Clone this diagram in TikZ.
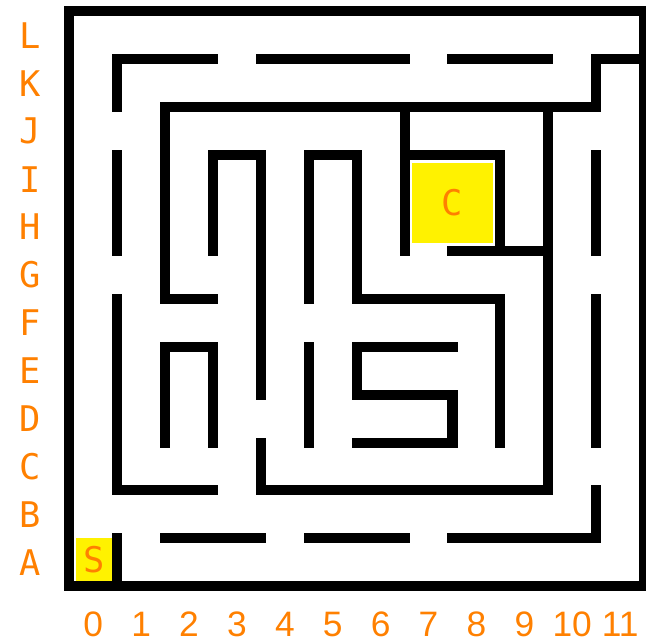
\documentclass[tikz,border=0pt]{standalone}
\usepackage{fontspec}
\usepackage{tikz}
\newfontfamily\mazefont{DejaVu Sans Mono}
\newfontfamily\numfont{Liberation Sans}
\definecolor{mazeorange}{HTML}{FF8000}
\tikzset{
  wall/.style={line width=0.209cm, line cap=rect, line join=miter, black},
  tag/.style={text=mazeorange, font=\mazefont\fontsize{21}{21}\selectfont, inner sep=0pt},
  numtag/.style={tag, font=\numfont\fontsize{21}{21}\selectfont},
  goal/.style={fill=yellow, draw=none}
}

\begin{document}
\begin{tikzpicture}[scale=1]
        \useasboundingbox (-1.447,-1.184) rectangle (12.04,12.24);
        \fill[goal] (7.16,7.16) rectangle (8.84,8.84);
        \fill[goal] (0.14,0.11) rectangle (0.92,1.0);
        \node[tag] (cheese) at (8,8) {C};
        \node[tag] (start) at (0.51,0.55) {S};
        \draw[wall] (0,0) -- (12,0) -- (12,12) -- (0,12) -- cycle;
        \draw[wall] (1,10) -- (1,11) -- (3,11);
        \draw[wall] (4,11) -- (7,11);
        \draw[wall] (8,11) -- (10,11);
        \draw[wall] (3,6) -- (2,6) -- (2,10) -- (11,10) -- (11,11) -- (12,11);
        \draw[wall] (1,9) -- (1,7);
        \draw[wall] (1,6) -- (1,2) -- (3,2);
        \draw[wall] (3,7) -- (3,9) -- (4,9) -- (4,4);
        \draw[wall] (4,3) -- (4,2) -- (10,2) -- (10,10);
        \draw[wall] (7,7) -- (7,10);
        \draw[wall] (7,9) -- (9,9) -- (9,7);
        \draw[wall] (8,7) -- (10,7);
        \draw[wall] (5,6) -- (5,9) -- (6,9) -- (6,6) -- (9,6) -- (9,3);
        \draw[wall] (5,5) -- (5,3);
        \draw[wall] (2,3) -- (2,5) -- (3,5) -- (3,3);
        \draw[wall] (8,5) -- (6,5) -- (6,4) -- (8,4) -- (8,3) -- (6,3);
        \draw[wall] (1,0) -- (1,1);
        \draw[wall] (2,1) -- (4,1);
        \draw[wall] (5,1) -- (7,1);
        \draw[wall] (8,1) -- (11,1) -- (11,2);
        \draw[wall] (11,9) -- (11,7);
        \draw[wall] (11,6) -- (11,3);
        \foreach \r [count=\j from 0] in {A,B,C,D,E,F,G,H,I,J,K,L}
          \node[tag] (row-\r) at (-0.82,\j+0.5) {\r};
        \foreach \c in {0,...,11}
          \node[numtag] (col-\c) at (\c+0.5,-0.79) {\c};
    \end{tikzpicture}
\end{document}
